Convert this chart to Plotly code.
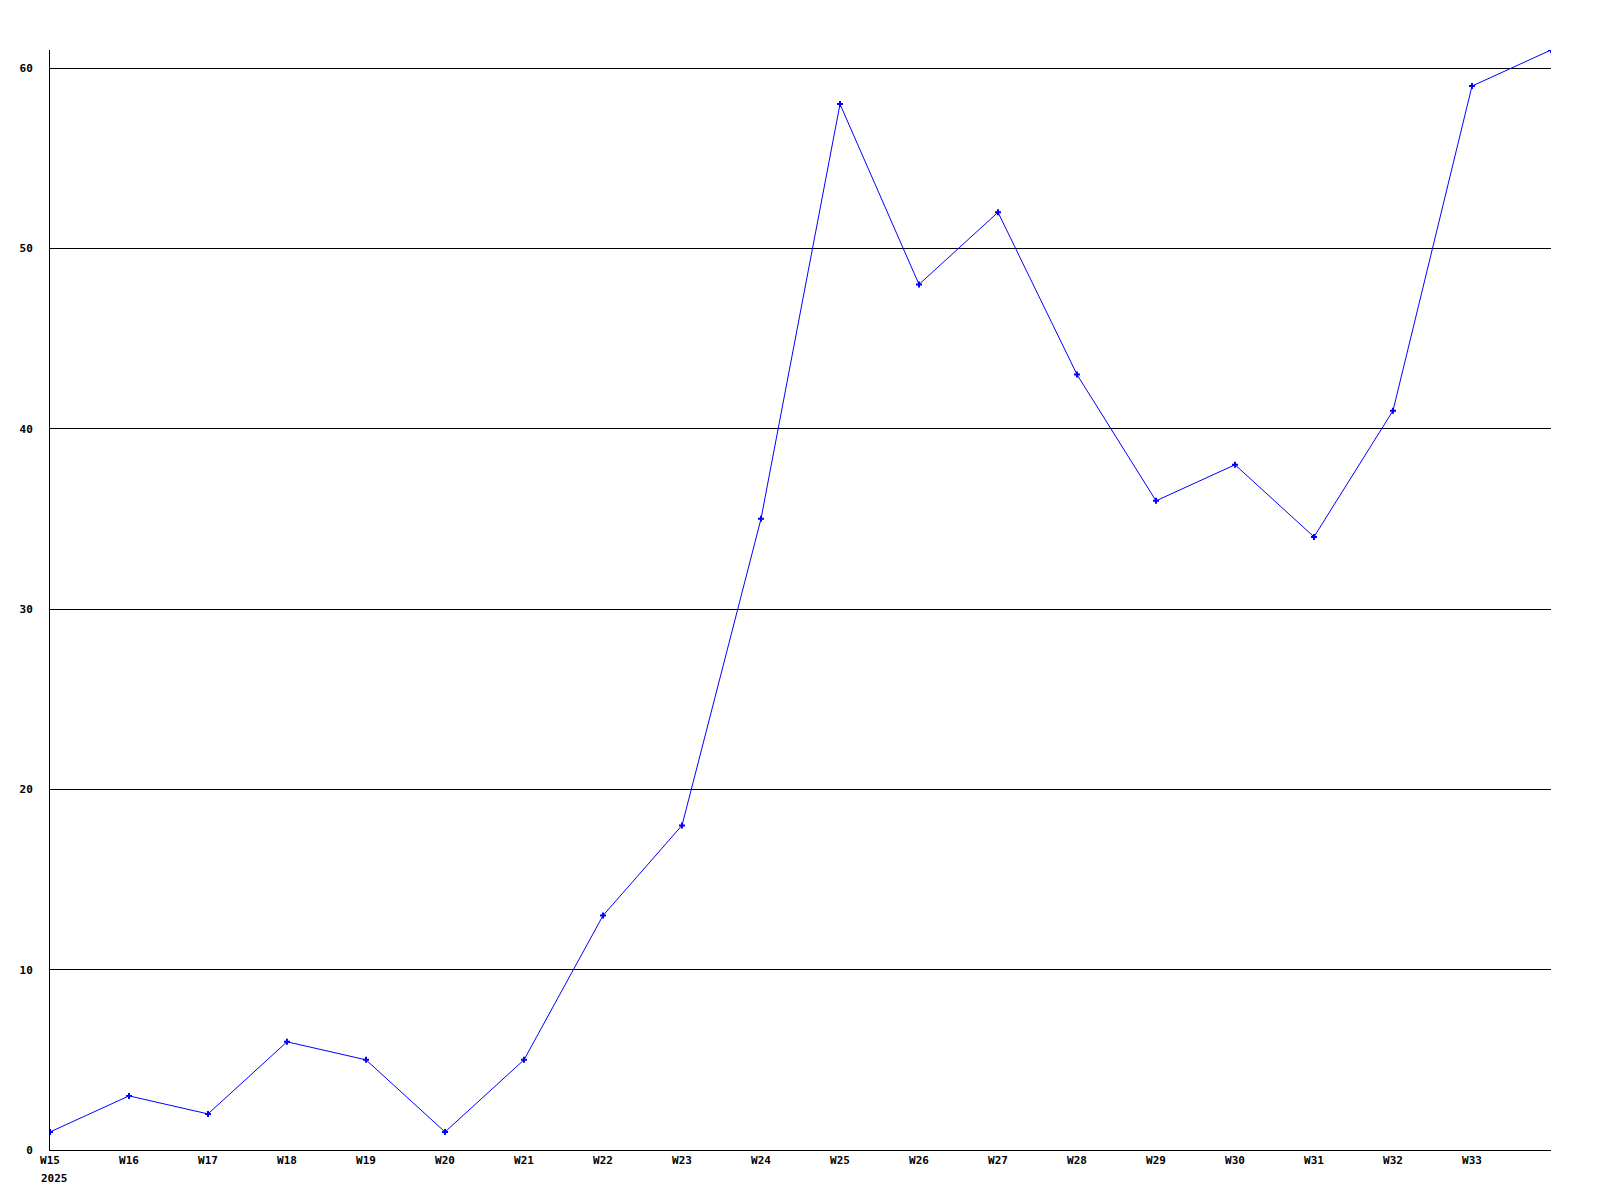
import plotly.graph_objects as go

weeks = ["W15", "W16", "W17", "W18", "W19", "W20", "W21", "W22", "W23", "W24",
         "W25", "W26", "W27", "W28", "W29", "W30", "W31", "W32", "W33", "W34"]
values = [1, 3, 2, 6, 5, 1, 5, 13, 18, 35, 58, 48, 52, 43, 36, 38, 34, 41, 59, 61]
tick_labels = ["W15", "W16", "W17", "W18", "W19", "W20", "W21", "W22", "W23",
               "W24", "W25", "W26", "W27", "W28", "W29", "W30", "W31", "W32", "W33"]
year_label = "2025"
y_ticks = [0, 10, 20, 30, 40, 50, 60]

x_idx = list(range(len(weeks)))

fig = go.Figure()
fig.add_trace(go.Scatter(
    x=x_idx, y=values, mode="lines+markers",
    line=dict(color="#0000ff", width=1),
    marker=dict(symbol="cross", size=5, color="#0000ff", line=dict(width=0)),
    cliponaxis=True, showlegend=False,
))

font = dict(family="DejaVu Sans Mono", size=11, color="black", weight="bold")

fig.add_annotation(
    x=0, xref="x", y=0, yref="paper", text=year_label, showarrow=False,
    xanchor="left", yanchor="top", xshift=-11, yshift=-20, font=font,
)

fig.update_layout(
    width=1584, height=1184,
    margin=dict(l=42, r=41, t=42, b=42, autoexpand=False),
    paper_bgcolor="white", plot_bgcolor="white",
    font=font,
    xaxis=dict(
        range=[0, len(weeks) - 1],
        tickmode="array", tickvals=x_idx[:len(tick_labels)], ticktext=tick_labels,
        showgrid=False, zeroline=False,
        showline=True, linecolor="black", linewidth=1,
        ticks="", tickfont=font, automargin=False,
    ),
    yaxis=dict(
        range=[0, 61],
        tickmode="array", tickvals=y_ticks, ticktext=[str(v) for v in y_ticks],
        showgrid=True, gridcolor="black", gridwidth=1,
        zeroline=False,
        showline=True, linecolor="black", linewidth=1,
        ticks="", tickfont=font, ticklabelstandoff=14, automargin=False,
    ),
)

fig.write_html("out.html")
